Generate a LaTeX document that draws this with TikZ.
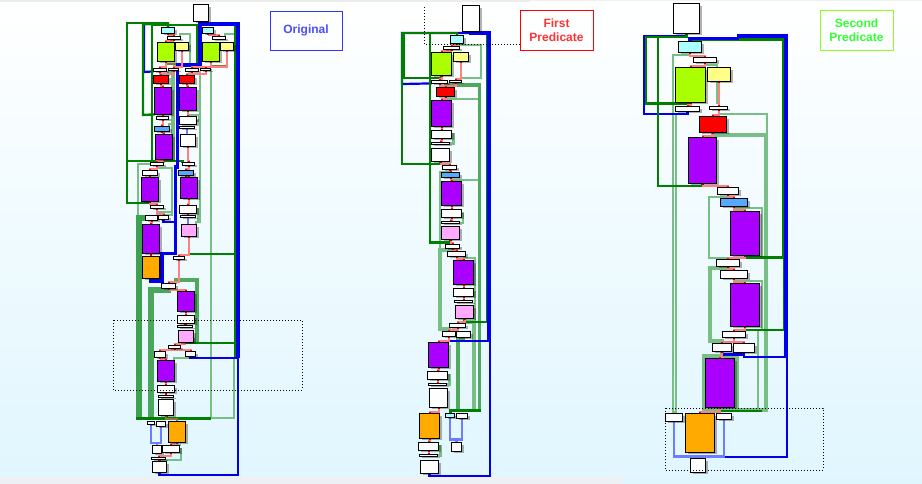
\documentclass[tikz,border=0pt]{standalone}
\usepackage{fontspec}
\setmainfont{Liberation Sans}
\usetikzlibrary{shadows,arrows.meta,calc}
\pgfdeclarelayer{bg}\pgfdeclarelayer{edges}
\pgfsetlayers{bg,edges,main}
\definecolor{cyanb}{HTML}{AAFFFF}\definecolor{limeb}{HTML}{AAFF00}\definecolor{yelb}{HTML}{FFFF88}
\definecolor{purb}{HTML}{AA00FF}\definecolor{redb}{HTML}{FF0000}\definecolor{bluf}{HTML}{55AAFF}
\definecolor{pinkb}{HTML}{FFAAFF}\definecolor{orab}{HTML}{FFAA00}
\definecolor{dkg}{HTML}{008000}\definecolor{ltg}{HTML}{77BF85}\definecolor{mdg}{HTML}{3FA04F}
\definecolor{dkb}{HTML}{0000EE}\definecolor{ltb}{HTML}{6E7CFF}\definecolor{pke}{HTML}{FF8080}\definecolor{brn}{HTML}{8A7A3A}
\definecolor{bgtop}{HTML}{FFFFFF}\definecolor{bgbot}{HTML}{E0F6FE}
\tikzset{
 cfgbox/.style={draw=black,line width=1.2pt,inner sep=0pt,outer sep=0pt,drop shadow={shadow xshift=2.5pt,shadow yshift=-2pt,fill=black,opacity=.3}},
 pk/.style={draw=pke,line width=2pt,arrows={Square[color=red,fill=red,length=1.6pt,width=2pt]-Square[color=red,fill=red,length=1.6pt,width=2pt]}},
 lg/.style={draw=ltg,line width=2pt},
 lgw/.style={draw=ltg,line width=3.5pt},
 lgx/.style={draw=mdg!80!ltg,line width=5.5pt},
 mg/.style={draw=mdg,line width=6pt},
 mgs/.style={draw=mdg!70!ltg,line width=3.5pt},
 dg/.style={draw=dkg,line width=2.4pt},
 dgw/.style={draw=dkg,line width=3pt},
 bl/.style={draw=dkb,line width=2.2pt},
 blw/.style={draw=dkb,line width=4pt},
 blm/.style={draw=dkb,line width=3.5pt},
 lb/.style={draw=ltb,line width=2.2pt},
 br/.style={draw=brn,line width=1.8pt},
 dotbox/.style={draw=black,line width=1pt,dotted},
 lab/.style={draw,line width=1pt,align=center,inner sep=0pt,font=\fontsize{12}{14}\selectfont\bfseries}
}
\newcommand{\bx}[6]{\pgfmathsetmacro{\bxw}{#4-#2-1.2}\pgfmathsetmacro{\bxh}{#5-#3-1.2}%
 \node[cfgbox,fill=#6,minimum width=\bxw pt,minimum height=\bxh pt] (#1) at ({(#2+#4)/2},{(#3+#5)/2}) {};}
\newcommand{\pe}[2]{\draw[pk] (#1.south) |- ($(#2.north)+(0,-2)$) -- (#2.north);}
\begin{document}
\begin{tikzpicture}[x=1pt,y=-1pt]
\useasboundingbox (0,0) rectangle (922,483);
\begin{pgfonlayer}{bg}
\shade[top color=bgtop,bottom color=bgbot] (0,0) rectangle (922,483);
\fill[black!7] (0,0) rectangle (530,2);
\fill[black!5] (530,0) rectangle (922,1);
\fill[black!6] (0,477) rectangle (622,483);
\end{pgfonlayer}
% ---------- panel 1 nodes
\bx{at}{193}{4}{209}{22}{white}
\bx{ac1}{161}{27}{175}{34}{cyanb}\bx{ac2}{202}{27}{214}{34}{cyanb}
\bx{as1}{167}{36}{181}{40}{white}\bx{as2}{212}{36}{226}{40}{white}
\bx{al1}{157}{42}{175}{62}{limeb}\bx{al2}{202}{42}{220}{62}{limeb}
\bx{ay1}{175}{42}{189}{51}{yelb}\bx{ay2}{220}{42}{234}{51}{yelb}
\bx{aw1}{153}{68}{167}{72}{white}\bx{aw2}{168}{68}{179}{71}{white}
\bx{aw3}{185}{68}{199}{72}{white}\bx{aw4}{200}{68}{211}{71}{white}
\bx{ar1}{153}{75}{169}{84}{redb}\bx{ar2}{179}{75}{195}{84}{redb}
\bx{ap1}{154}{87}{172}{115}{purb}\bx{ap2}{179}{87}{197}{111}{purb}
\bx{aw5}{156}{116}{169}{120}{white}\bx{aw6}{179}{116}{197}{125}{white}
\bx{aw7}{179}{126}{195}{129}{white}\bx{ab1}{154}{126}{170}{132}{bluf}
\bx{ap3}{155}{134}{173}{160}{purb}\bx{aw8}{180}{134}{196}{147}{white}
\bx{aw9}{150}{162}{164}{166}{white}\bx{aw10}{182}{162}{195}{166}{white}
\bx{aw11}{142}{170}{158}{176}{white}\bx{ab2}{178}{170}{194}{176}{bluf}
\bx{ap4}{141}{177}{159}{202}{purb}\bx{ap5}{180}{177}{198}{199}{purb}
\bx{aw12}{150}{205}{164}{209}{white}\bx{aw13}{179}{205}{197}{214}{white}
\bx{aw14}{180}{215}{196}{218}{white}\bx{aw15}{145}{215}{158}{221}{white}
\bx{aw16}{158}{215}{169}{220}{white}
\bx{ap6}{142}{224}{160}{254}{purb}\bx{api1}{181}{224}{197}{237}{pinkb}
\bx{ao1}{142}{256}{160}{279}{orab}\bx{aw17}{173}{256}{185}{260}{white}
\bx{aw18}{161}{283}{176}{289}{white}\bx{ap7}{177}{291}{195}{312}{purb}
\bx{aw19}{177}{315}{195}{324}{white}\bx{aw20}{177}{325}{193}{328}{white}
\bx{api2}{178}{330}{194}{343}{pinkb}\bx{aw21}{168}{345}{181}{349}{white}
\bx{aw22}{154}{351}{166}{358}{white}\bx{aw23}{185}{351}{196}{357}{white}
\bx{ap8}{157}{360}{175}{382}{purb}\bx{aw24}{157}{385}{175}{393}{white}
\bx{aw25}{158}{395}{174}{398}{white}\bx{aw26}{158}{399}{174}{416}{white}
\bx{aw27}{147}{421}{155}{425}{white}\bx{aw28}{156}{421}{166}{427}{white}
\bx{ao2}{168}{421}{186}{443}{orab}\bx{aw29}{152}{445}{162}{454}{white}
\bx{aw30}{162}{445}{180}{453}{white}\bx{aw31}{151}{457}{166}{460}{white}
\bx{aw32}{152}{461}{167}{473}{white}
% ---------- panel 2 nodes
\bx{bt}{462}{5}{480}{32}{white}\bx{bc1}{450}{35}{464}{44}{cyanb}
\bx{bs1}{443}{46}{460}{50}{white}\bx{bl1}{431}{52}{452}{76}{limeb}
\bx{by1}{453}{52}{469}{62}{yelb}\bx{bw1}{431}{80}{448}{84}{white}
\bx{bw2}{449}{80}{462}{83}{white}\bx{br1}{436}{87}{455}{97}{redb}
\bx{bp1}{431}{100}{452}{127}{purb}\bx{bw3}{431}{130}{452}{139}{white}
\bx{bw4}{431}{142}{450}{145}{white}\bx{bw5}{431}{148}{450}{162}{white}
\bx{bw6}{442}{165}{457}{170}{white}\bx{bb1}{441}{172}{460}{178}{bluf}
\bx{bp2}{441}{181}{462}{206}{purb}\bx{bw7}{441}{209}{462}{218}{white}
\bx{bw8}{441}{221}{460}{224}{white}\bx{bpi1}{441}{226}{460}{240}{pinkb}
\bx{bw9}{445}{244}{460}{249}{white}\bx{bw10}{447}{251}{466}{257}{white}
\bx{bp3}{453}{260}{474}{285}{purb}\bx{bw11}{453}{288}{474}{297}{white}
\bx{bw12}{454}{300}{473}{303}{white}\bx{bpi2}{455}{305}{474}{319}{pinkb}
\bx{bw13}{449}{323}{466}{328}{white}\bx{bw14}{442}{331}{456}{337}{white}
\bx{bw15}{456}{331}{471}{338}{white}\bx{bp4}{428}{342}{449}{368}{purb}
\bx{bw16}{427}{371}{448}{380}{white}\bx{bw17}{428}{383}{447}{386}{white}
\bx{bw18}{429}{388}{448}{408}{white}\bx{bo1}{419}{413}{440}{439}{orab}
\bx{bc2}{445}{413}{455}{418}{cyanb}\bx{bw19}{456}{413}{468}{419}{white}
\bx{bw20}{418}{442}{439}{451}{white}\bx{bw21}{419}{454}{438}{457}{white}
\bx{bw22}{420}{460}{439}{474}{white}\bx{bw23}{451}{442}{462}{452}{white}
% ---------- panel 3 nodes
\bx{ct}{673}{3}{700}{34}{white}\bx{cc1}{678}{41}{702}{53}{cyanb}
\bx{cs1}{693}{57}{717}{63}{white}\bx{cl1}{675}{67}{706}{103}{limeb}
\bx{cy1}{707}{67}{731}{82}{yelb}\bx{cw1}{675}{106}{700}{112}{white}
\bx{cw2}{709}{106}{728}{110}{white}\bx{cr1}{699}{116}{727}{133}{redb}
\bx{cp1}{688}{137}{717}{184}{purb}\bx{cw3}{717}{187}{739}{195}{white}
\bx{cb1}{720}{198}{748}{207}{bluf}\bx{cp2}{730}{211}{760}{256}{purb}
\bx{cw4}{716}{259}{740}{267}{white}\bx{cw5}{720}{270}{748}{279}{white}
\bx{cp3}{730}{283}{760}{327}{purb}\bx{cw6}{722}{331}{746}{338}{white}
\bx{cw7}{712}{343}{732}{352}{white}\bx{cw8}{733}{343}{755}{353}{white}
\bx{cp4}{705}{358}{735}{408}{purb}\bx{cw9}{665}{413}{683}{422}{white}
\bx{co1}{685}{413}{715}{453}{orab}\bx{cw10}{716}{413}{732}{420}{white}
\bx{cw11}{690}{458}{706}{473}{white}
% ---------- labels
\node[lab,draw=blue!80!white,text=blue!70!white,minimum width=72pt,minimum height=39pt] (l1) at (306,30.5) {Original};
\node[lab,draw=red,text=red!80!white,minimum width=73pt,minimum height=40pt] (l2) at (556.5,30) {First\\Predicate};
\node[lab,draw=green!50!yellow!90!white,text=green!80!white,minimum width=73pt,minimum height=40pt] (l3) at (856.5,30) {Second\\Predicate};
% ---------- dotted
\coordinate (d1) at (424,7);\coordinate (d2) at (424,44);
\draw[dotbox] (113,320) rectangle (302,390);
\draw[dotbox] (d1) -- (d2) -- (l2.west |- d2);
\draw[dotbox] (665,408) rectangle (823,470);
\begin{pgfonlayer}{edges}
% ===== panel 1 light/mid green
\draw[lg] (as1.north east) |- (190,34) -- (190,65) -| (aw2.north);
\draw[lg] (as2.north east) |- (234,34);
\draw[lg] (aw4.east) -| (211,418);
\draw[lg] (aw3.south) |- (200,74) -- (200,222) -| (api1.north east);
\draw[lg] (ap2.south) |- (200,115);
\draw[lg] (aw6.east) -| (199,115);
\draw[lgw] (ar1.north east) |- (173,73) -- (173,160) -| (aw9.north east);
\draw[lg] (ab1.north east) |- (173,124);
\draw[lg] (aw9.west) -| (138,218) -- (aw15.west);
\draw[lg] (aw11.north east) |- (172,168) -- (172,215) -| (aw16.north);
\draw[lg] (aw12.south) |- (172,212);
\draw[lgw] (aw13.east) -| (198.5,222);
\draw[mg] (aw15.west) -| (139,418);
\draw[lgx] (aw18.south) |- (151,290) -- (151,418);
\draw[mgs] (aw18.north east) |- (197,280) -- (197,340) -- (api2.east |- 0,340);
\draw[lg] (ap8.north east) |- (234,358) -- (234,418) -- (136,418);
\draw[dgw] (aw26.south) |- (136,418);
\draw[dgw] (aw26.south) |- (211,418);
\draw[br] (aw26.south) |- (177,419) -| (ao2.north);
\draw[lb] (aw27.south) |- (157,443) -- (aw29.north);
\draw[lb] (aw28.south) |- (157,443) -- (aw29.north);
\draw[lg] (aw30.east) -| (181,460) -| (aw31.south);
\draw[lg] (ao2.south) |- (181,445);
% panel 1 left blue + dark green
\draw[bl] (ac1.north) |- (144,24) -- (144,72) -- (aw1.south west);
\draw[dg] (at.south) |- (152,25) -- (152,162);
\draw[dg] (at.south) |- (197.5,25) -- (197.5,65);
\draw[dg] (ac1.north) |- (127,23) -- (127,203) -| (ap4.south);
\draw[dg] (aw10.north west) |- (127,161);
\draw[dg] (ac1.north) |- (143,24) -- (143,115) -- (ap1.south west);
\draw[dg] (api1.south) |- (235,254);
\draw[dg] (api2.south) |- (235,343);
\draw[dg] (at.south) |- (235,24) -- (235,358);
\draw[br] (al1.south) |- (181,64) -| (aw2.north east);
\draw[br] (al2.south) |- (227,66);
% panel 1 main blue
\draw[blw] (at.south) |- (237.5,24) -- (237.5,358);
\draw[bl] (aw23.south) |- (238,358) -- (238,475) -| (aw32.south);
\draw[blm] (at.south) |- (200,24) -- (200,65) -- (177.5,65) -- (177.5,167) -- (175.5,167) -- (175.5,253.5) -- (162,253.5) -- (162,281) -| (ao1.south);
\draw[bl] (aw16.south) |- (175.5,222);
\draw[lb] (aw14.south) -- (aw14.south |- api1.north);
\draw[lb] (aw7.south) -- (aw7.south |- aw8.north);
% pink panel 1
\pe{ac1}{as1}\pe{as1}{al1}\pe{al1}{aw1}\pe{ay1}{aw2}\pe{aw1}{ar1}\pe{aw2}{ar1}\pe{ar1}{ap1}
\pe{ac2}{as2}\pe{al2}{aw3}\pe{ay2}{aw4}\pe{aw3}{ar2}\pe{aw4}{ar2}\pe{ar2}{ap2}
\pe{ap1}{aw5}\pe{aw5}{ab1}\pe{ab1}{ap3}\pe{ap2}{aw6}\pe{aw8}{aw10}\pe{ap3}{aw9}
\pe{aw9}{aw11}\pe{aw11}{ap4}\pe{aw10}{ab2}\pe{ab2}{ap5}\pe{ap4}{aw12}\pe{aw12}{aw16}
\pe{ap5}{aw13}\pe{aw13}{aw14}\pe{aw15}{ap6}\pe{ap6}{ao1}\pe{api1}{aw17}\pe{aw17}{aw18}
\pe{aw18}{ap7}\pe{ap7}{aw19}\pe{aw19}{aw20}\pe{api2}{aw21}\pe{aw21}{aw22}\pe{aw21}{aw23}
\pe{aw22}{ap8}\pe{ap8}{aw24}\pe{aw24}{aw25}\pe{ao2}{aw30}\pe{aw30}{aw31}\pe{aw31}{aw32}
% ===== panel 2 light/mid green
\draw[lg] (bc1.south) |- (481,45) -- (481,78) -| (by1.south);
\draw[lg] (br1.north) |- (479,85);
\draw[lg] (br1.south) |- (479,99);
\draw[mgs] (br1.north) |- (479.5,85) -- (479.5,410);
\draw[lgw] (bw3.east) -| (453.5,143.5) -- (bw4.east);
\draw[lg] (bw6.south) |- (440,171.5) -- (440,250) -| (bw9.south);
\draw[lg] (bb1.south) |- (478,180);
\draw[lgw] (bw9.south) |- (440,250) -- (440,329) -| (bw14.south);
\draw[lg] (bw7.east) -| (463,222.5) -- (bw8.east);
\draw[lg] (bp3.north) |- (475,258) -- (475,322);
\draw[lgw] (bpi2.south) |- (474,322) -- (474,410);
\draw[mgs] (bw15.south) |- (458,340) -- (458,410);
\draw[lgw] (bw16.east) -| (449.5,384.5) -- (bw17.east);
\draw[dgw] (bc2.north) |- (481,410);
\draw[lgw] (bw20.east) -| (440.5,455.5) -- (bw21.east);
\draw[lb] (bc2.south) |- (456.5,439.5) -- (bw23.north);
\draw[lb] (bw19.south) |- (456.5,439.5) -- (bw23.north);
% panel 2 blue left + dark green
\draw[bl] (bt.south) |- (402,33) -- (402,84) -- (bw1.south west);
\draw[dg] (bc1.north) |- (402,33) -- (402,164) -| (bw5.south);
\draw[dg] (bc1.north) |- (403.5,33) -- (403.5,78) -| (bl1.south);
\draw[dg] (bc1.north) |- (430,33) -- (430,242.5) -| (bpi1.south);
\draw[dg] (bpi2.south) |- (488,322);
\draw[dg] (bt.south) |- (487,33) -- (487,322);
\draw[blw] (bt.south) |- (489,33) -- (489,341);
\draw[bl] (bw14.south) |- (490,341) -- (490,476) -| (bw22.south);
% pink panel 2
\pe{bc1}{bs1}\pe{bs1}{bl1}\pe{by1}{bw2}\pe{bl1}{bw1}\pe{bw1}{br1}\pe{bw2}{br1}\pe{br1}{bp1}
\pe{bp1}{bw3}\pe{bw3}{bw4}\pe{bw5}{bw6}\pe{bw6}{bb1}\pe{bb1}{bp2}\pe{bp2}{bw7}\pe{bw7}{bw8}
\pe{bpi1}{bw9}\pe{bw9}{bw10}\pe{bw10}{bp3}\pe{bp3}{bw11}\pe{bw11}{bw12}\pe{bpi2}{bw13}
\pe{bw13}{bw14}\pe{bw14}{bp4}\pe{bp4}{bw16}\pe{bw16}{bw17}\pe{bw18}{bo1}\pe{bo1}{bw20}\pe{bw20}{bw21}
% ===== panel 3 light/mid green
\draw[lg] (cc1.south) |- (673,55) -- (673,412) -| (cw9.north);
\draw[lg] (cw1.south) |- (676,114) -- (676,412) -| (cw9.north);
\draw[lg] (cs1.south) |- (717,65) -- (717,103) -| (cw2.north);
\draw[lg] (cw2.south) |- (767,114) -- (767,135);
\draw[lgw] (cr1.south) |- (766,135) -- (766,410) -| (cp4.south);
\draw[lg] (cw3.south) |- (709,197) -- (709,258) -| (cw4.north);
\draw[lg] (cb1.south) |- (762,208) -- (762,257);
\draw[lgw] (cw4.south) |- (710,268) -- (710,341) -| (cw7.north);
\draw[lg] (cw5.south) |- (762,281) -- (762,330) -- (758,330) -- (758,410);
\draw[lgw] (cw7.south) |- (704,356) -- (704,410) -- (cp4.south |- 0,410);
\draw[lgw] (cw7.south) |- (737,356) -- (737,408);
\draw[dg] (cp4.south) |- (762,411);
% panel 3 blue left + dark green
\draw[bl] (ct.south) |- (644,36) -- (644,114) -| (cw1.south);
\draw[dg] (ct.south) |- (646,37) -- (646,103.5) -| (cl1.south);
\draw[dg] (ct.south) |- (658,37) -- (658,186) -| (cp1.south);
\draw[dgw] (cc1.north) |- (783,39) -- (783,257) -| (cp2.south);
\draw[dg] (cp3.south) |- (784,330) -- (784,257);
\draw[bl] (cw7.south) |- (744,354.5);
\draw[bl] (cw8.south) |- (787,357) -- (787,457) -| (cw11.north);
\draw[lb] (cw9.south) |- (698,456.5) -- (cw11.north);
\draw[lb] (cw10.south) |- (698,456.5) -- (cw11.north);
\draw[blm] (cc1.north) |- (737,38.5) -- (737,36.5);
\draw[blw] (737,36) -- (786,36) -- (786,357);
% pink panel 3
\pe{cc1}{cs1}\pe{cs1}{cl1}\pe{cl1}{cw1}\pe{cy1}{cw2}\pe{cw2}{cr1}\pe{cr1}{cp1}\pe{cp1}{cw3}
\pe{cw3}{cb1}\pe{cb1}{cp2}\pe{cp2}{cw4}\pe{cw4}{cw5}\pe{cw5}{cp3}\pe{cp3}{cw6}\pe{cw6}{cw7}
\pe{cw6}{cw8}\pe{cp4}{co1}\pe{cw7}{cp4}
\end{pgfonlayer}
\end{tikzpicture}
\end{document}
